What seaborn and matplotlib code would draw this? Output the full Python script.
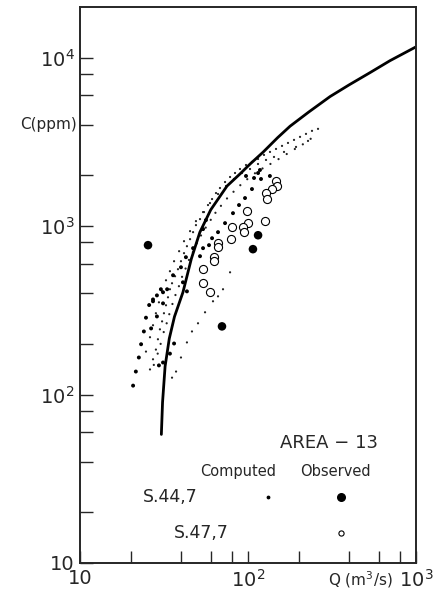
import numpy as np
import pandas as pd
import seaborn as sns
import matplotlib
matplotlib.use("Agg")
import matplotlib.pyplot as plt
from matplotlib.ticker import FixedLocator, FixedFormatter, NullFormatter

# ---- data ----
curve_q = [30.5, 31.0, 32.1, 34.0, 36.5, 41.0, 46.0, 51.7, 60.0, 75.0, 90.0, 103.0, 123.0, 150.0, 178.0, 230.0, 308.0, 400.0, 532.0, 700.0, 1000.0]
curve_c = [58, 90, 147, 215, 290, 405, 640, 920, 1250, 1730, 2050, 2340, 2750, 3350, 3920, 4760, 5880, 6900, 8150, 9600, 11600]

obs44_q = [25.4, 114.8, 107.0, 70.0]
obs44_c = [771, 883, 730, 254]

obs47_q = [147, 149, 139, 128, 130, 98.6, 126, 100, 80.3, 93.3, 94.6, 79.2, 66.3, 66.3, 62.8, 62.8, 54.0, 54.0, 59.4]
obs47_c = [1854, 1729, 1660, 1571, 1449, 1228, 1071, 1042, 986, 986, 921, 837, 792, 750, 654, 619, 555, 458, 405]

comp44_q = [117.8, 114.8, 119.5, 108.6, 135, 97.3, 105.6, 96.0, 88.4, 81.4, 73.0, 66.3, 61.1, 56.2, 54.0, 58.6, 54.0,
            51.8, 47.1, 42.7, 39.9, 35.8, 33.0, 31.2, 28.7, 27.2, 31.2, 28.7, 26.5, 36.3, 34.3, 31.2, 29.5, 41.0, 43.3,
            20.7, 21.5, 22.4, 23.1, 24.0, 24.7, 25.8, 27.2, 30.3]
comp44_c = [2154, 2067, 1905, 1931, 1985, 1985, 1660, 1468, 1334, 1194, 1042, 921, 848, 1086, 960, 771, 740,
            663, 740, 654, 570, 511, 422, 405, 388, 358, 348, 291, 247, 201, 175, 155, 149, 464, 410,
            113, 137, 166, 199, 237, 286, 340, 367, 422]

comp47_q = [26.1, 27.2, 28.3, 29.1, 29.9, 30.8, 31.6, 32.5, 33.4, 34.3, 35.3, 36.8, 38.3, 39.9, 41.6, 43.3, 45.2, 47.1,
            49.0, 51.8, 54.7, 57.8, 61.1, 64.5, 68.1, 73.0, 78.2, 83.7, 89.6, 97.3, 105.6, 114.7, 124.5, 135.2, 146.8,
            159.4, 173.0, 187.9, 204.0, 221.4, 240.4, 261.1,
            24.7, 26.1, 27.2, 28.3, 29.5, 30.8, 32.5, 34.3, 36.3, 38.9, 41.6, 45.2, 49.0, 54.0, 59.4, 66.3, 74.0, 82.5,
            92.1, 102.8, 114.7, 128.0, 142.8, 163.8, 193.1, 227.6,
            27.5, 29.0, 30.2, 31.5, 32.8, 34.0, 35.5, 37.0, 38.8, 40.5, 42.5, 44.5, 47.0, 49.5, 52.5, 56.0, 60.0, 64.0,
            69.0, 75.0, 82.0, 90.0, 99.0, 110.0, 122.0, 136.0, 152.0, 170.0, 190.0, 212.0, 236.0,
            78.2, 71.0, 66.3, 61.9, 55.5, 50.4, 46.4, 43.3, 39.9, 37.3, 35.3]
comp47_c = [141, 162, 185, 213, 244, 272, 304, 339, 378, 422, 458, 504, 555, 619, 691, 760, 837, 921,
            1014, 1101, 1212, 1334, 1448, 1572, 1684, 1828, 1958, 2068, 2184, 2307, 2405, 2505, 2647, 2758, 2873,
            2995, 3119, 3251, 3388, 3529, 3678, 3781,
            180, 219, 258, 304, 353, 410, 477, 540, 619, 710, 814, 934, 1071, 1212, 1371, 1551, 1730, 1905,
            2068, 2184, 2339, 2472, 2575, 2758, 2953, 3206,
            150, 175, 200, 235, 265, 300, 345, 390, 440, 500, 560, 630, 700, 790, 880, 980, 1090, 1200,
            1320, 1460, 1600, 1750, 1900, 2060, 2200, 2340, 2500, 2680, 2870, 3060, 3300,
            532, 422, 383, 358, 308, 265, 237, 204, 166, 137, 126]

x_major = [10, 100, 1000]
x_major_labels = ["10", r"$\mathregular{10^2}$", r"$\mathregular{10^3}$"]
y_major = [10, 100, 1000, 10000]
y_major_labels = ["10", r"$\mathregular{10^2}$", r"$\mathregular{10^3}$", r"$\mathregular{10^4}$"]

sns.set_style("ticks")
plt.rcParams["font.family"] = ["DejaVu Sans"]
plt.rcParams["mathtext.fontset"] = "dejavusans"

fig = plt.figure(figsize=(4.39, 5.94), dpi=100)
ax = fig.add_axes([80 / 439, 1 - 563 / 594, 336 / 439, 556 / 594])
ax.set_xscale("log")
ax.set_yscale("log")
ax.set_xlim(10, 1000)
ax.set_ylim(10, 20000)

curve = pd.DataFrame({"Q": curve_q, "C": curve_c})
sns.lineplot(data=curve, x="Q", y="C", sort=False, estimator=None, color="black", lw=2.0, ax=ax)

d47 = pd.DataFrame({"Q": comp47_q, "C": comp47_c})
sns.scatterplot(data=d47, x="Q", y="C", s=2.5, color="#222222", edgecolor="none", marker="o", ax=ax)
d44 = pd.DataFrame({"Q": comp44_q, "C": comp44_c})
sns.scatterplot(data=d44, x="Q", y="C", s=8, color="black", edgecolor="none", marker="o", ax=ax)
o47 = pd.DataFrame({"Q": obs47_q, "C": obs47_c})
sns.scatterplot(data=o47, x="Q", y="C", s=34, facecolor="white", edgecolor="black", linewidth=0.8, marker="o", ax=ax)
o44 = pd.DataFrame({"Q": obs44_q, "C": obs44_c})
sns.scatterplot(data=o44, x="Q", y="C", s=38, color="black", edgecolor="none", marker="o", ax=ax)

ax.set_xlabel("")
ax.set_ylabel("")
ax.xaxis.set_major_locator(FixedLocator(x_major))
ax.xaxis.set_major_formatter(FixedFormatter(x_major_labels))
ax.yaxis.set_major_locator(FixedLocator(y_major))
ax.yaxis.set_major_formatter(FixedFormatter(y_major_labels))
ax.xaxis.set_minor_locator(FixedLocator([20, 40, 60, 80, 200, 400, 600, 800]))
ax.yaxis.set_minor_locator(FixedLocator([20, 40, 60, 80, 200, 400, 600, 800, 2000, 4000, 6000, 8000]))
ax.xaxis.set_minor_formatter(NullFormatter())
ax.yaxis.set_minor_formatter(NullFormatter())
ax.tick_params(which="both", direction="in", length=9, width=1.0, top=False, right=False)
ax.tick_params(axis="both", which="major", labelsize=14, pad=4)
for s in ax.spines.values():
    s.set_linewidth(1.4)
    s.set_visible(True)

ax.text(-0.01, (np.log10(4000) - 1) / np.log10(2000), "C(ppm)", transform=ax.transAxes,
        ha="right", va="center", fontsize=11)
ax.text(0.833, -0.03, r"Q (m$^3$/s)", transform=ax.transAxes, ha="center", va="center", fontsize=11)

ax.text(0.74, 0.215, "AREA \u2212 13", transform=ax.transAxes,
        ha="center", va="center", fontsize=13)
ax.text(0.47, 0.165, "Computed", transform=ax.transAxes, ha="center", va="center", fontsize=10.5)
ax.text(0.76, 0.165, "Observed", transform=ax.transAxes, ha="center", va="center", fontsize=10.5)
ax.text(0.27, 0.119, "S.44,7", transform=ax.transAxes, ha="center", va="center", fontsize=12.5)
ax.text(0.36, 0.054, "S.47,7", transform=ax.transAxes, ha="center", va="center", fontsize=12.5)
ax.scatter([0.56], [0.119], s=3, color="black", transform=ax.transAxes)
ax.scatter([0.777], [0.119], s=30, color="black", transform=ax.transAxes)
ax.scatter([0.777], [0.054], s=14, facecolor="white", edgecolor="black", lw=0.8, transform=ax.transAxes)

fig.savefig("out.png", dpi=100)
